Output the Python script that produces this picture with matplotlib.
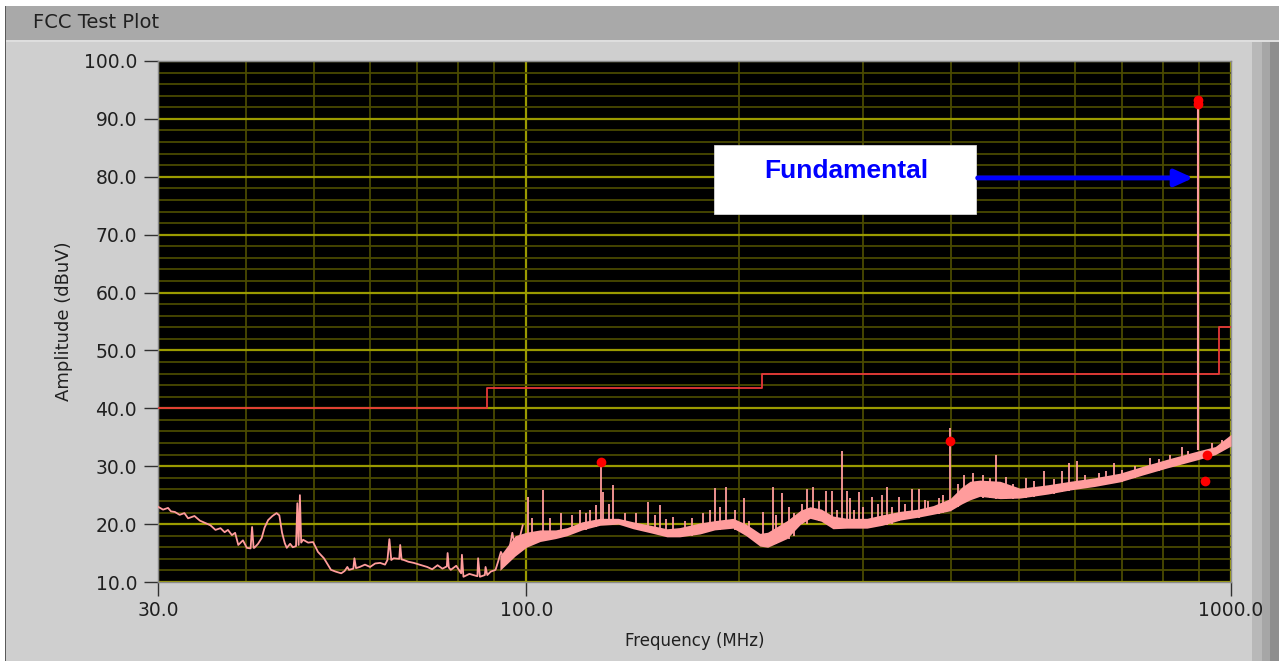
import matplotlib.pyplot as plt
from matplotlib.patches import Rectangle
from matplotlib.ticker import FixedLocator, MultipleLocator, NullFormatter

W, H = 1279, 661

PANEL = "#cfcfcf"
TITLE_BAR = "#a9a9a9"
MAJOR_GRID = "#9a9a00"
MINOR_GRID = "#4a4a00"
TRACE = "#ff9c9c"
LIMIT = "#e8383a"
MARKER = "#ff0000"
TEXT = "#202020"

# sweep below ~100 MHz, drawn as a single line (MHz, dBuV)
trace_freq = [30.0, 30.5, 31.0, 31.3, 31.7, 32.2, 32.7, 33.1, 33.8, 34.4, 35.0, 35.6,
              36.2, 36.8, 37.3, 37.7, 38.2, 38.6, 39.0, 39.6, 40.1, 40.6, 40.8, 41.0,
              41.1, 41.6, 42.1, 42.5, 43.0, 43.6, 44.2, 44.6, 45.0, 45.4, 45.7, 46.2,
              46.6, 47.1, 47.3, 47.5, 47.7, 47.9, 48.2, 49.0, 49.8, 50.6, 51.6, 52.8,
              53.6, 54.6, 55.2, 55.7, 56.0, 56.8, 57.0, 57.3, 58.0, 59.0, 60.0, 61.0,
              62.0, 63.0, 63.5, 63.9, 64.3, 64.8, 66.0, 66.2, 66.5, 67.0, 68.0, 69.2,
              70.5, 72.3, 73.5, 74.8, 76.0, 77.1, 77.3, 77.6, 78.1, 79.5, 80.8, 81.0,
              81.4, 83.0, 85.2, 85.4, 85.9, 87.3, 87.5, 88.0, 89.0, 90.4, 91.2, 92.0,
              93.0, 93.8, 95.5, 96.3, 97.1, 98.8]
trace_amp = [23.0, 22.5, 22.8, 22.2, 22.1, 21.6, 21.9, 21.0, 21.4, 20.6, 20.2, 19.8,
             19.0, 19.3, 18.6, 19.0, 18.1, 18.5, 16.4, 17.2, 15.9, 15.8, 19.5, 15.9,
             15.9, 16.6, 17.6, 19.4, 20.7, 21.4, 21.9, 21.5, 18.5, 16.7, 15.9, 16.6,
             16.0, 16.2, 23.6, 16.4, 25.0, 16.8, 17.3, 16.8, 16.9, 15.2, 14.1, 12.1,
             11.8, 11.5, 11.9, 12.6, 12.1, 12.3, 14.1, 12.4, 12.6, 13.0, 12.6, 13.2,
             13.3, 13.0, 13.8, 17.4, 13.8, 14.1, 14.0, 16.4, 13.9, 13.8, 13.5, 13.3,
             13.0, 12.6, 12.2, 12.9, 12.3, 12.7, 15.0, 12.5, 12.1, 12.8, 11.5, 14.7,
             10.9, 11.4, 11.0, 14.1, 10.9, 11.2, 12.6, 11.2, 11.8, 12.1, 13.6, 15.2,
             14.0, 13.3, 18.5, 16.2, 16.0, 19.8]

# dense noise band above ~90 MHz: floor and top of the envelope
band_freq = [91.7, 96.4, 100.0, 104.6, 110.0, 114.2, 120.0, 127.2, 135.0, 141.7,
             150.0, 158.3, 165.0, 176.3, 185.0, 196.5, 205.0, 214.5, 220.0, 234.3,
             245.0, 252.7, 262.0, 272.3, 285.0, 304.3, 320.0, 339.1, 360.0, 377.8,
             399.3, 415.0, 426.3, 440.0, 470.1, 501.9, 550.0, 591.0, 640.0, 695.7,
             750.0, 811.3, 895.0, 950.0, 1000.0]
band_lo = [12.0, 14.5, 16.0, 17.0, 17.5, 18.0, 19.0, 19.8, 20.0, 19.2,
           18.5, 17.8, 17.8, 18.3, 19.0, 19.3, 18.0, 16.2, 16.0, 17.5,
           20.0, 21.0, 20.5, 19.2, 19.3, 19.3, 19.8, 20.7, 21.2, 21.7,
           22.3, 23.5, 24.2, 24.8, 24.4, 24.5, 25.2, 25.9, 26.5, 27.3,
           28.5, 29.7, 31.1, 32.0, 33.5]
band_hi = [14.5, 18.0, 18.6, 19.0, 19.0, 19.4, 20.4, 21.0, 21.0, 20.4,
           19.8, 19.2, 19.4, 20.2, 20.6, 21.0, 20.0, 18.4, 18.6, 20.6,
           22.4, 23.0, 22.6, 21.4, 21.0, 21.0, 21.6, 22.2, 22.6, 23.2,
           24.4, 26.4, 27.4, 27.6, 27.4, 26.2, 26.8, 27.4, 28.0, 28.8,
           30.0, 31.2, 32.6, 33.4, 35.5]

# narrow spurs rising out of the band
spur_freq = [100.4, 105.6, 121.5, 125.5, 127.6, 128.4, 132.7, 148.8, 154.8, 161.5,
             185.2, 192.0, 203.6, 216.6, 223.9, 230.5, 235.9, 250.2, 255.2, 266.2,
             271.5, 280.5, 285.1, 287.9, 296.5, 309.3, 319.6, 324.9, 337.9, 352.5,
             360.6, 367.8, 390.3, 398.9, 463.9, 479.4, 511.8, 542.8, 575.6, 589.0,
             604.5, 664.6, 682.2, 767.5, 852.0,
             102.0, 108.0, 112.0, 116.0, 119.0, 123.0, 131.0, 138.0, 143.0, 152.0,
             158.0, 168.0, 172.0, 178.0, 182.0, 188.0, 198.0, 207.0, 226.0, 240.0,
             246.0, 260.0, 276.0, 292.0, 300.0, 315.0, 330.0, 345.0, 372.0, 385.0,
             410.0, 418.0, 430.0, 445.0, 455.0, 490.0, 525.0, 560.0, 620.0, 650.0,
             700.0, 730.0, 790.0, 820.0, 870.0, 940.0, 970.0]
spur_base = [17.0, 17.5, 19.0, 19.5, 20.0, 20.0, 20.0, 19.0, 18.5, 18.0,
             19.0, 19.5, 19.0, 16.5, 16.5, 17.0, 17.5, 20.0, 21.0, 20.0,
             19.5, 19.5, 19.5, 19.5, 19.5, 19.5, 19.8, 19.8, 20.5, 21.0,
             21.0, 21.5, 22.0, 22.5, 24.3, 24.3, 24.5, 25.0, 25.6, 25.8,
             26.0, 27.0, 27.2, 29.0, 30.5,
             17.0, 17.5, 18.0, 18.5, 19.0, 19.5, 20.0, 20.0, 19.5, 18.5,
             18.0, 18.0, 18.0, 18.5, 19.0, 19.0, 19.0, 18.0, 16.5, 18.0,
             20.0, 20.5, 19.5, 19.5, 19.5, 19.8, 20.0, 20.8, 21.5, 21.8,
             23.0, 24.0, 24.5, 24.5, 24.5, 24.4, 24.7, 25.2, 26.2, 26.7,
             27.3, 28.0, 29.2, 29.8, 30.8, 32.0, 33.0]
spur_top = [24.6, 25.9, 21.9, 23.3, 30.8, 25.5, 26.8, 23.8, 23.3, 21.2,
            26.2, 26.4, 24.5, 22.1, 26.4, 25.4, 23.0, 26.1, 26.4, 25.7,
            25.7, 32.7, 25.8, 24.5, 25.6, 24.7, 25.0, 26.4, 24.7, 26.1,
            26.1, 24.2, 25.0, 36.6, 31.9, 28.1, 28.0, 29.2, 29.2, 30.6,
            30.9, 29.2, 30.6, 31.4, 33.3,
            21.0, 21.0, 22.0, 21.5, 22.5, 22.5, 23.5, 22.0, 22.0, 21.5,
            20.8, 20.5, 21.0, 22.0, 22.5, 23.0, 22.5, 20.5, 21.5, 22.0,
            23.5, 24.0, 22.5, 22.5, 23.0, 23.5, 23.0, 23.5, 24.0, 24.5,
            27.0, 28.5, 28.8, 28.5, 28.0, 27.0, 27.5, 27.8, 28.5, 28.8,
            29.3, 30.0, 31.3, 32.0, 32.7, 34.0, 34.6]

# fundamental carrier
fund_freq = [897.6]
fund_base = [32.8]
fund_top = [93.0]

# FCC class B radiated limit
limit_freq = [30, 88, 216, 960, 1000]
limit_level = [40.0, 43.5, 46.0, 54.0, 54.0]

# peak markers
peak_freq = [127.6, 398.9, 897.6, 897.6, 924.6, 918.0]
peak_amp = [30.8, 34.4, 92.6, 93.2, 31.9, 27.4]

x_ticks = [30, 100, 1000]
x_tick_labels = ["30.0", "100.0", "1000.0"]
x_minor = [40, 50, 60, 70, 80, 90, 200, 300, 400, 500, 600, 700, 800, 900]


def px_rect(fig, x0, y0, x1, y1, color, z=0):
    # rectangle given in image pixels (origin top-left)
    fig.add_artist(Rectangle((x0 / W, 1 - y1 / H), (x1 - x0) / W, (y1 - y0) / H,
                             transform=fig.transFigure, facecolor=color,
                             edgecolor="none", zorder=z))


fig = plt.figure(figsize=(W / 100, H / 100), dpi=100)
fig.patch.set_facecolor(PANEL)

# window chrome
px_rect(fig, 0, 0, W, 6, "#ffffff")
px_rect(fig, 0, 0, 5, H, "#ffffff")
px_rect(fig, 5, 6, W, 40, TITLE_BAR)
px_rect(fig, 5, 40, W, 42, "#dedede")
px_rect(fig, 5, 6, 6, H, "#5a5a5a")
px_rect(fig, 1252, 42, 1262, H, "#b8b8b8")
px_rect(fig, 1262, 42, 1270, H, "#a6a6a6")
px_rect(fig, 1270, 42, W, H, "#8e8e8e")
fig.text(33 / W, 1 - 22 / H, "FCC Test Plot", fontsize=14, color=TEXT,
         ha="left", va="center")

ax = fig.add_axes([158 / W, 1 - 582 / H, (1231 - 158) / W, (582 - 61) / H])
ax.set_facecolor("#000000")
ax.set_xscale("log")
ax.set_xlim(30, 1000)
ax.set_ylim(10, 100)

ax.xaxis.set_major_locator(FixedLocator(x_ticks))
ax.set_xticklabels(x_tick_labels)
ax.xaxis.set_minor_locator(FixedLocator(x_minor))
ax.xaxis.set_minor_formatter(NullFormatter())
ax.yaxis.set_major_locator(MultipleLocator(10))
ax.yaxis.set_minor_locator(MultipleLocator(2))
ax.yaxis.set_major_formatter(lambda v, pos: f"{v:.1f}")

ax.grid(True, which="minor", color=MINOR_GRID, linewidth=1.3)
ax.grid(True, which="major", color=MAJOR_GRID, linewidth=1.6)
ax.set_axisbelow(True)
ax.tick_params(which="minor", length=0)
ax.tick_params(which="major", direction="out", length=10, width=1.0,
               color="#303030", labelcolor=TEXT, labelsize=13.5)
ax.tick_params(axis="y", pad=5)
ax.tick_params(axis="x", pad=4)
for spine in ax.spines.values():
    spine.set_color("#8a8a8a")
    spine.set_linewidth(1)

ax.set_xlabel("Frequency (MHz)", fontsize=12, color=TEXT, labelpad=8)
ax.set_ylabel("Amplitude (dBuV)", fontsize=13, color=TEXT, labelpad=8)

# limit line
ax.step(limit_freq, limit_level, where="post", color=LIMIT, linewidth=1.3, zorder=3)

# measured spectrum
ax.plot(trace_freq, trace_amp, color=TRACE, linewidth=1.3, zorder=4)
ax.fill_between(band_freq, band_lo, band_hi, color=TRACE, linewidth=0, zorder=4)
ax.vlines(spur_freq, spur_base, spur_top, color=TRACE, linewidth=1.3, zorder=4)
ax.vlines(fund_freq, fund_base, fund_top, color=TRACE, linewidth=1.5, zorder=4)

ax.plot(peak_freq, peak_amp, linestyle="none", marker="o", markersize=7,
        color=MARKER, markeredgewidth=0, zorder=6)

# annotation box
ax.add_patch(Rectangle((0.5182, 0.7063), 0.2442, 0.1324, transform=ax.transAxes,
                       facecolor="#ffffff", edgecolor="#d8d8d8", linewidth=0.6,
                       zorder=7))
ax.text(0.6412, 0.789, "Fundamental", transform=ax.transAxes, fontsize=19,
        fontweight="bold", family="Liberation Sans", color="#0000ff",
        ha="center", va="center", zorder=8)
ax.annotate("", xy=(884, 79.8), xytext=(437, 79.8),
            arrowprops=dict(arrowstyle="-|>,head_length=1.1,head_width=0.5",
                            color="#0000ff", linewidth=3.5, shrinkA=0, shrinkB=0),
            zorder=8)

fig.savefig("out.png", dpi=100, facecolor=fig.get_facecolor())
